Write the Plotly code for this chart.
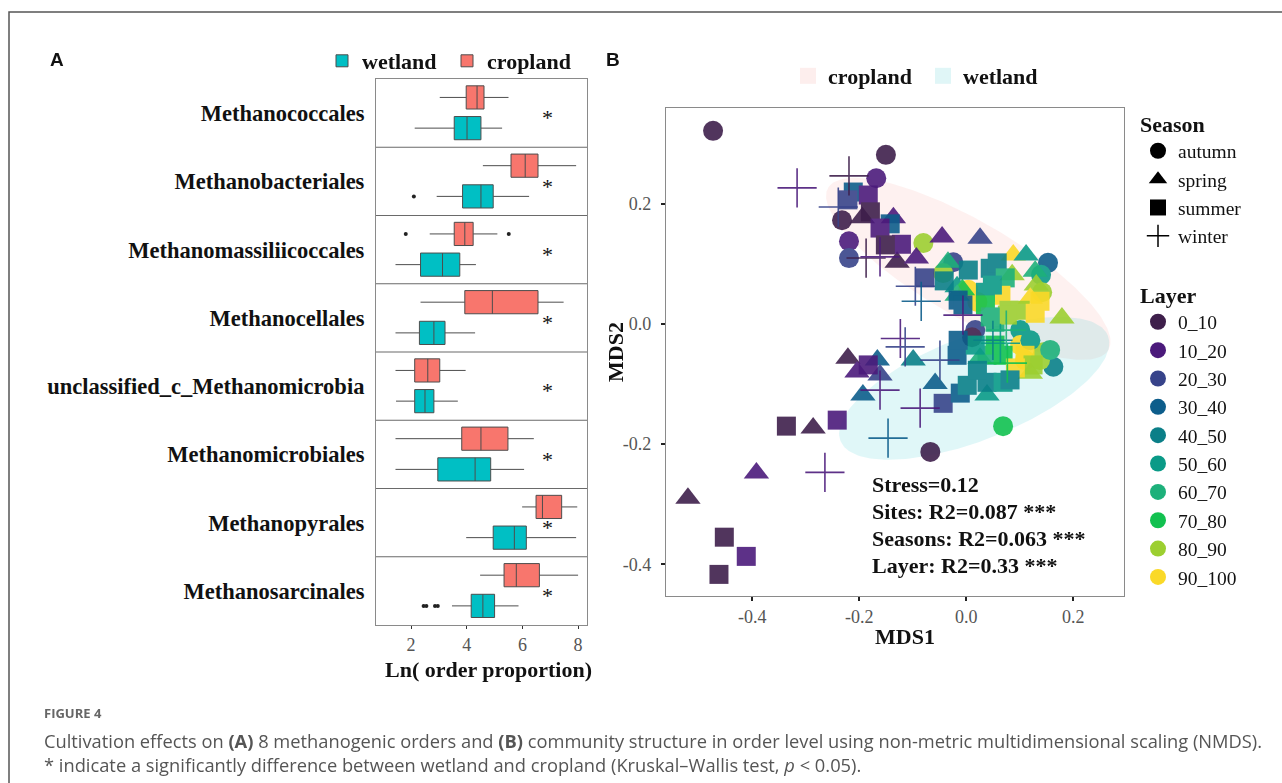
import numpy as np
import plotly.graph_objects as go

W, H = 1282, 783
SERIF = "Liberation Serif"

# ---------------- Panel A data ----------------
orders = ["Methanococcales", "Methanobacteriales", "Methanomassiliicoccales",
          "Methanocellales", "unclassified_c_Methanomicrobia", "Methanomicrobiales",
          "Methanopyrales", "Methanosarcinales"]

wet_low = [2.13, 2.92, 1.44, 1.44, 1.46, 1.44, 3.98, 3.47]
wet_q1 = [3.55, 3.85, 2.34, 2.30, 2.13, 2.96, 4.95, 4.16]
wet_med = [4.01, 4.51, 3.13, 2.82, 2.50, 4.30, 5.71, 4.58]
wet_q3 = [4.51, 4.95, 3.75, 3.22, 2.82, 4.86, 6.14, 5.00]
wet_up = [5.27, 6.24, 4.33, 4.30, 3.68, 6.06, 7.93, 5.86]

crop_low = [3.03, 4.58, 2.67, 2.34, 1.44, 1.44, 5.99, 4.48]
crop_q1 = [3.98, 5.59, 3.55, 3.93, 2.13, 3.82, 6.49, 5.34]
crop_med = [4.37, 6.10, 3.93, 4.92, 2.60, 4.51, 6.72, 5.78]
crop_q3 = [4.62, 6.56, 4.23, 6.56, 3.03, 5.48, 7.41, 6.61]
crop_up = [5.50, 7.93, 5.10, 7.48, 3.96, 6.41, 7.97, 8.00]

wet_out_order = ["Methanobacteriales", "Methanosarcinales", "Methanosarcinales",
                 "Methanosarcinales", "Methanosarcinales"]
wet_out_val = [2.10, 2.45, 2.55, 2.86, 2.96]
crop_out_order = ["Methanomassiliicoccales", "Methanomassiliicoccales"]
crop_out_val = [1.81, 5.51]

sig_x = 6.9
xticksA = [2, 4, 6, 8]

# ---------------- Panel B data ----------------
layers = ["0_10", "10_20", "20_30", "30_40", "40_50", "50_60", "60_70", "70_80", "80_90", "90_100"]
layer_colors = ["#3E1F4B", "#4B1A7B", "#37438A", "#0D5D8B", "#0B7F88",
                "#0A9A87", "#1DB07A", "#12C150", "#9CCF30", "#FAD928"]
seasons = ["autumn", "spring", "summer", "winter"]

autumn_x = [-0.473, -0.150, -0.168, -0.232, -0.219, -0.219, -0.080, -0.024, -0.043, 0.004,
            0.153, 0.140, 0.142, 0.021, 0.017, 0.011, 0.101, 0.144, 0.163, 0.101,
            0.110, 0.138, 0.069, -0.067, 0.157, 0.120]
autumn_y = [0.322, 0.282, 0.243, 0.173, 0.138, 0.110, 0.135, 0.103, 0.085, 0.057,
            0.102, 0.082, 0.053, 0.037, -0.010, -0.022, -0.010, -0.047, -0.071, -0.035,
            -0.060, -0.060, -0.170, -0.213, -0.043, -0.027]
autumn_layer = ["0_10", "0_10", "10_20", "0_10", "10_20", "20_30", "80_90", "20_30", "80_90", "90_100",
                "30_40", "50_60", "80_90", "90_100", "20_30", "0_10", "50_60", "80_90", "40_50", "90_100",
                "90_100", "80_90", "70_80", "0_10", "60_70", "50_60"]

spring_x = [-0.194, -0.136, -0.045, 0.026, -0.129, -0.093, -0.034, -0.017, 0.088, 0.112,
            0.129, 0.086, 0.131, 0.179, 0.120, -0.007, -0.221, -0.166, -0.204, -0.161,
            -0.193, -0.099, -0.058, 0.039, 0.120, 0.026, -0.286, -0.392, -0.520, -0.017]
spring_y = [0.177, 0.177, 0.145, 0.143, 0.103, 0.110, 0.103, 0.062, 0.115, 0.115,
            0.088, 0.082, 0.065, 0.010, 0.043, 0.057, -0.057, -0.060, -0.080, -0.085,
            -0.118, -0.060, -0.099, -0.118, -0.082, -0.057, -0.173, -0.248, -0.290, 0.048]
spring_layer = ["0_10", "10_20", "10_20", "20_30", "0_10", "10_20", "60_70", "50_60", "90_100", "50_60",
                "60_70", "80_90", "80_90", "80_90", "90_100", "70_80", "0_10", "30_40", "10_20", "20_30",
                "30_40", "40_50", "30_40", "50_60", "80_90", "60_70", "0_10", "10_20", "0_10", "60_70"]

summer_x = [-0.211, -0.221, -0.183, -0.179, -0.142, -0.161, -0.121, -0.151, -0.077, -0.041,
            -0.015, 0.004, 0.045, 0.058, 0.073, 0.065, 0.080, 0.138, 0.036, 0.049,
            0.036, 0.101, 0.054, -0.006, 0.129, 0.077, 0.045, -0.183, -0.017, -0.043,
            -0.011, 0.002, 0.039, 0.069, 0.039, 0.069, 0.110, 0.125, 0.021, 0.092,
            0.054, 0.017, -0.015, 0.082, -0.241, -0.336, -0.452, -0.411, -0.462]
summer_y = [0.220, 0.207, 0.215, 0.187, 0.167, 0.160, 0.133, 0.132, 0.077, 0.072,
            0.040, 0.090, 0.093, 0.102, 0.077, 0.048, 0.023, 0.038, 0.053, 0.065,
            0.032, 0.023, 0.003, 0.032, 0.018, 0.015, 0.012, -0.068, -0.052, -0.132,
            -0.115, -0.102, -0.097, -0.097, -0.052, -0.052, -0.052, -0.068, -0.077, -0.073,
            -0.035, -0.035, -0.027, -0.093, -0.160, -0.170, -0.355, -0.387, -0.417]
summer_layer = ["30_40", "20_30", "10_20", "0_10", "30_40", "10_20", "10_20", "0_10", "20_30", "40_50",
                "30_40", "40_50", "40_50", "40_50", "60_70", "90_100", "80_90", "90_100", "50_60", "50_60",
                "70_80", "80_90", "60_70", "30_40", "90_100", "80_90", "60_70", "10_20", "30_40", "20_30",
                "30_40", "40_50", "40_50", "50_60", "60_70", "70_80", "90_100", "80_90", "40_50", "90_100",
                "70_80", "50_60", "30_40", "40_50", "10_20", "0_10", "0_10", "10_20", "0_10"]

winter_x = [-0.316, -0.219, -0.239, -0.187, -0.161, -0.095, -0.084, -0.123, -0.114, -0.161,
            -0.049, -0.086, -0.146, -0.264, 0.077, 0.064, -0.006, 0.050, 0.075]
winter_y = [0.227, 0.247, 0.195, 0.110, 0.112, 0.063, 0.038, -0.024, -0.038, -0.110,
            -0.060, -0.140, -0.190, -0.247, -0.065, -0.032, 0.015, -0.027, -0.010]
winter_layer = ["10_20", "0_10", "20_30", "0_10", "10_20", "20_30", "30_40", "10_20", "20_30", "10_20",
                "20_30", "10_20", "30_40", "10_20", "70_80", "50_60", "10_20", "40_50", "60_70"]

# confidence ellipses: centre, major semi-axis vector, minor semi-axis vector (MDS units)
ell_groups = ["cropland", "wetland"]
ell_center = [(0.004, 0.092), (0.015, -0.107)]
ell_major = [(0.262, -0.135), (0.250, 0.0875)]
ell_minor = [(0.045, 0.069), (0.0355, -0.0807)]
ell_fill = ["rgba(248,118,109,0.10)", "rgba(0,191,196,0.12)"]
ell_key = ["#FDEEED", "#E0F6F7"]

stats_lines = ["Stress=0.12", "Sites: R2=0.087 ***", "Seasons: R2=0.063 ***", "Layer: R2=0.33 ***"]
stats_y = [-0.267, -0.312, -0.357, -0.402]
stats_x = -0.179

# ---------------- layout geometry (pixels -> paper) ----------------
def px(x):
    return x / W

def py(y):
    return 1 - y / H

fig = go.Figure()

# ---------------- Panel A ----------------
n = len(orders)
centers = [n - 1 - k for k in range(n)]
pos = {o: c for o, c in zip(orders, centers)}
crop_off, wet_off = 0.23, -0.22

WET = "#00BFC4"
CROP = "#F8766D"

fig.add_trace(go.Box(
    orientation="h", y=[c + wet_off for c in centers],
    lowerfence=wet_low, q1=wet_q1, median=wet_med, q3=wet_q3, upperfence=wet_up,
    width=0.34, whiskerwidth=0, fillcolor=WET, line=dict(color="#4d4d4d", width=1),
    boxpoints=False, name="wetland", xaxis="x", yaxis="y", legend="legend"))
fig.add_trace(go.Box(
    orientation="h", y=[c + crop_off for c in centers],
    lowerfence=crop_low, q1=crop_q1, median=crop_med, q3=crop_q3, upperfence=crop_up,
    width=0.34, whiskerwidth=0, fillcolor=CROP, line=dict(color="#4d4d4d", width=1),
    boxpoints=False, name="cropland", xaxis="x", yaxis="y", legend="legend"))

fig.add_trace(go.Scatter(
    x=wet_out_val, y=[pos[o] + wet_off for o in wet_out_order], mode="markers",
    marker=dict(color="#222", size=4), showlegend=False, xaxis="x", yaxis="y"))
fig.add_trace(go.Scatter(
    x=crop_out_val, y=[pos[o] + crop_off for o in crop_out_order], mode="markers",
    marker=dict(color="#222", size=4), showlegend=False, xaxis="x", yaxis="y"))

fig.add_trace(go.Scatter(
    x=[sig_x] * n, y=[c - 0.1 for c in centers], mode="text", text=["*"] * n,
    textfont=dict(family=SERIF, size=22, color="#111"), showlegend=False,
    xaxis="x", yaxis="y"))

# ---------------- Panel B ----------------
cmap = dict(zip(layers, layer_colors))
t = np.linspace(0, 2 * np.pi, 200)
for g, c, u, v, f in zip(ell_groups, ell_center, ell_major, ell_minor, ell_fill):
    ex = c[0] + u[0] * np.cos(t) + v[0] * np.sin(t)
    ey = c[1] + u[1] * np.cos(t) + v[1] * np.sin(t)
    fig.add_trace(go.Scatter(x=ex, y=ey, mode="lines", fill="toself", fillcolor=f,
                             line=dict(width=0, color=f), showlegend=False,
                             xaxis="x2", yaxis="y2", hoverinfo="skip"))
for g, k in zip(ell_groups, ell_key):
    fig.add_trace(go.Scatter(x=[None], y=[None], mode="markers", name=g,
                             marker=dict(symbol="square", size=16, color=k),
                             legend="legend2", xaxis="x2", yaxis="y2"))

season_data = {
    "autumn": (autumn_x, autumn_y, autumn_layer, "circle", 20),
    "spring": (spring_x, spring_y, spring_layer, "triangle-up", 22),
    "summer": (summer_x, summer_y, summer_layer, "square", 19),
    "winter": (winter_x, winter_y, winter_layer, "cross-thin", 28),
}
for s in seasons:
    xs, ys, ls, sym, sz = season_data[s]
    cols = [cmap[l] for l in ls]
    if sym == "cross-thin":
        mk = dict(symbol=sym, size=sz, line=dict(color=cols, width=1.6))
    else:
        mk = dict(symbol=sym, size=sz, color=cols, line=dict(width=0))
    fig.add_trace(go.Scatter(x=xs, y=ys, mode="markers", marker=mk, opacity=0.9,
                             showlegend=False, xaxis="x2", yaxis="y2"))

# legend-only entries
for s in seasons:
    sym = season_data[s][3]
    if sym == "cross-thin":
        mk = dict(symbol=sym, size=16, line=dict(color="black", width=1.5))
    else:
        mk = dict(symbol=sym, size=16, color="black")
    fig.add_trace(go.Scatter(x=[None], y=[None], mode="markers", marker=mk, name=s,
                             legend="legend3", xaxis="x2", yaxis="y2"))
for l in layers:
    fig.add_trace(go.Scatter(x=[None], y=[None], mode="markers",
                             marker=dict(symbol="circle", size=16, color=cmap[l]), name=l,
                             legend="legend4", xaxis="x2", yaxis="y2"))

# ---------------- axes ----------------
axis_line = dict(showline=True, mirror=True, linecolor="#8a8a8a", linewidth=1.2,
                 showgrid=False, zeroline=False)

fig.update_layout(
    width=W, height=H, margin=dict(l=0, r=0, t=0, b=0, pad=0, autoexpand=False),
    paper_bgcolor="white", plot_bgcolor="white",
    xaxis=dict(domain=[px(376), px(587)], range=[0.74, 8.32], tickvals=xticksA,
               ticks="outside", ticklen=3, tickcolor="#333",
               tickfont=dict(family=SERIF, size=18, color="#555"),
               anchor="y", **axis_line),
    yaxis=dict(domain=[py(625), py(79)], range=[-0.5, n - 0.5], tickvals=centers,
               ticktext=["<b>%s</b>" % o for o in orders], ticks="", ticklabelstandoff=6,
               tickfont=dict(family=SERIF, size=22.5, color="#111"), anchor="x", **axis_line),
    xaxis2=dict(domain=[px(666), px(1124)], range=[-0.561, 0.295],
                tickvals=[-0.4, -0.2, 0.0, 0.2], ticktext=["-0.4", "-0.2", "0.0", "0.2"],
                ticks="outside", ticklen=4, tickwidth=1.5, tickcolor="#222",
                tickfont=dict(family=SERIF, size=18, color="#555"),
                anchor="y2", **axis_line),
    yaxis2=dict(domain=[py(596), py(108)], range=[-0.453, 0.36],
                tickvals=[-0.4, -0.2, 0.0, 0.2], ticktext=["-0.4", "-0.2", "0.0", "0.2"],
                ticks="outside", ticklen=4, tickwidth=1.5, tickcolor="#222", ticklabelstandoff=6,
                tickfont=dict(family=SERIF, size=18, color="#555"),
                anchor="x2", **axis_line),
    legend=dict(x=px(322), y=py(40), xanchor="left", yanchor="top", orientation="h",
                font=dict(family=SERIF, size=22, color="#111", weight="bold"),
                entrywidth=80, entrywidthmode="pixels",
                bgcolor="rgba(0,0,0,0)", itemclick=False),
    legend2=dict(x=px(788), y=py(55), xanchor="left", yanchor="top", orientation="h",
                 font=dict(family=SERIF, size=22, color="#111", weight="bold"),
                 entrywidth=90, entrywidthmode="pixels",
                 bgcolor="rgba(0,0,0,0)"),
    legend3=dict(x=px(1138), y=py(103), xanchor="left", yanchor="top",
                 title=dict(text="<b>Season</b>", font=dict(family=SERIF, size=22, color="#111")),
                 font=dict(family=SERIF, size=19.5, color="#111"), bgcolor="rgba(0,0,0,0)",
                 itemsizing="trace"),
    legend4=dict(x=px(1138), y=py(274), xanchor="left", yanchor="top",
                 title=dict(text="<b>Layer</b>", font=dict(family=SERIF, size=22, color="#111")),
                 font=dict(family=SERIF, size=19.5, color="#111"), bgcolor="rgba(0,0,0,0)",
                 itemsizing="trace"),
    showlegend=True,
)

# facet separators (panel A)
shapes = []
for k in range(n - 1):
    shapes.append(dict(type="line", xref="x domain", yref="y", x0=0, x1=1,
                       y0=k + 0.5, y1=k + 0.5, line=dict(color="#6a6a6a", width=1.2)))
# outer figure frame
shapes.append(dict(type="rect", xref="paper", yref="paper", x0=px(9), x1=1.05,
                   y0=-0.05, y1=py(12), line=dict(color="#555", width=1.5)))
fig.update_layout(shapes=shapes)

ann = []
ann.append(dict(text="<b>A</b>", x=px(57), y=py(60), xref="paper", yref="paper",
                xanchor="center", yanchor="middle", showarrow=False,
                font=dict(family="Liberation Sans", size=19, color="#111")))
ann.append(dict(text="<b>B</b>", x=px(613), y=py(60), xref="paper", yref="paper",
                xanchor="center", yanchor="middle", showarrow=False,
                font=dict(family="Liberation Sans", size=19, color="#111")))
# axis titles
ann.append(dict(text="<b>Ln( order proportion)</b>", x=px(488), y=py(669), xref="paper", yref="paper",
                xanchor="center", yanchor="middle", showarrow=False,
                font=dict(family=SERIF, size=22, color="#111")))
ann.append(dict(text="<b>MDS1</b>", x=px(905), y=py(636), xref="paper", yref="paper",
                xanchor="center", yanchor="middle", showarrow=False,
                font=dict(family=SERIF, size=22, color="#111")))
ann.append(dict(text="<b>MDS2</b>", x=px(616), y=py(352), xref="paper", yref="paper",
                xanchor="center", yanchor="middle", showarrow=False, textangle=-90,
                font=dict(family=SERIF, size=22, color="#111")))
for txt, yy in zip(stats_lines, stats_y):
    ann.append(dict(text="<b>%s</b>" % txt, x=stats_x, y=yy, xref="x2", yref="y2",
                    xanchor="left", yanchor="middle", showarrow=False,
                    font=dict(family=SERIF, size=22, color="#111")))
ann.append(dict(text="<b>FIGURE 4</b>", x=px(42), y=py(713), xref="paper", yref="paper",
                xanchor="left", yanchor="middle", showarrow=False,
                font=dict(family="Open Sans", size=13, color="#666")))
ann.append(dict(text="Cultivation effects on <b>(A)</b> 8 methanogenic orders and <b>(B)</b> community "
                     "structure in order level using non-metric multidimensional scaling (NMDS).",
                x=px(42), y=py(740), xref="paper", yref="paper", xanchor="left", yanchor="middle",
                showarrow=False, font=dict(family="Open Sans", size=18.3, color="#555")))
ann.append(dict(text="* indicate a significantly difference between wetland and cropland "
                     "(Kruskal\u2013Wallis test, <i>p</i> &lt; 0.05).",
                x=px(42), y=py(764), xref="paper", yref="paper", xanchor="left", yanchor="middle",
                showarrow=False, font=dict(family="Open Sans", size=18.3, color="#555")))
fig.update_layout(annotations=ann)

fig.write_html("out.html")
